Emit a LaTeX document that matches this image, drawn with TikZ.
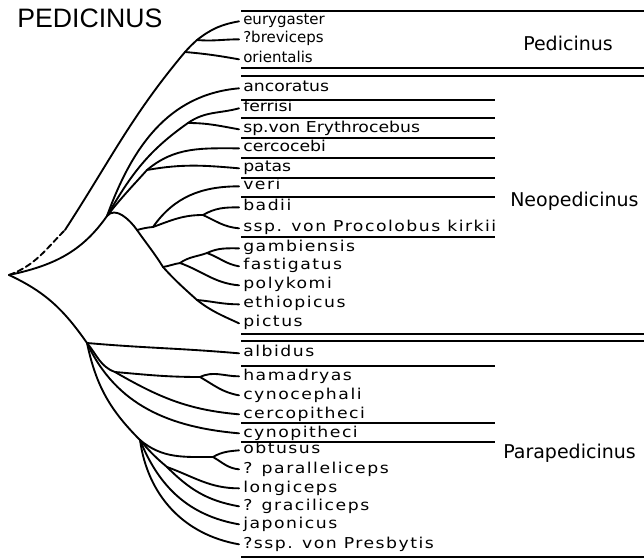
\documentclass[tikz,border=0pt]{standalone}
\usepackage{fontspec}
\newfontfamily\titlefont{Liberation Sans}
\newfontfamily\taxfont{DejaVu Sans}
\newfontfamily\taxfontwide[FakeStretch=1.15]{DejaVu Sans}
\newfontfamily\taxfontwider[FakeStretch=1.15,LetterSpace=10]{DejaVu Sans}
\tikzset{
  taxon/.style={anchor=base west, inner xsep=3pt, inner ysep=0pt,
    text height=8pt, text depth=2.5pt,
    font=\taxfont\fontsize{11.25pt}{13pt}\selectfont},
  widetaxon/.style={taxon, font=\taxfontwide\fontsize{11.25pt}{13pt}\selectfont},
  widertaxon/.style={taxon, font=\taxfontwider\fontsize{11.25pt}{13pt}\selectfont},
  genus/.style={anchor=base west, inner sep=0pt,
    font=\taxfont\fontsize{14.25pt}{16pt}\selectfont},
  branch/.style={line width=1.4pt, line cap=round},
  sepline/.style={line width=0.8pt},
  septhick/.style={line width=1.4pt}
}

\begin{document}
\begin{tikzpicture}[x=0.75pt, y=0.75pt]
  \useasboundingbox (0,0) rectangle (644,-560);

  \node[anchor=base west, inner sep=0pt, font=\titlefont\fontsize{20pt}{24pt}\selectfont] (title) at (17,-28) {PEDICINUS};

  % Pedicinus
  \node[taxon] (eurygaster) at (239,-25) {eurygaster};
  \node[taxon] (breviceps) at (239,-43) {?breviceps};
  \node[taxon] (orientalis) at (239,-63) {orientalis};
  % Neopedicinus
  \node[widetaxon] (ancoratus) at (239,-92) {ancoratus};
  \node[widetaxon] (ferrisi) at (239,-112) {ferrisi};
  \node[widetaxon] (spvon) at (239,-133) {sp.von Erythrocebus};
  \node[widetaxon] (cercocebi) at (239,-152) {cercocebi};
  \node[widetaxon] (patas) at (239,-172) {patas};
  \node[widertaxon] (veri) at (239,-190) {veri};
  \node[widertaxon] (badii) at (239,-211) {badii};
  \node[widertaxon] (kirkii) at (239,-232) {ssp. von Procolobus kirkii};
  \node[widertaxon] (gambiensis) at (239,-252) {gambiensis};
  \node[widertaxon] (fastigatus) at (239,-270) {fastigatus};
  \node[widertaxon] (polykomi) at (239,-289) {polykomi};
  \node[widertaxon] (ethiopicus) at (239,-308) {ethiopicus};
  \node[widertaxon] (pictus) at (239,-327) {pictus};
  % Parapedicinus
  \node[widertaxon] (albidus) at (239,-357) {albidus};
  \node[widertaxon] (hamadryas) at (239,-380) {hamadryas};
  \node[widertaxon] (cynocephali) at (239,-399) {cynocephali};
  \node[widertaxon] (cercopitheci) at (239,-418) {cercopitheci};
  \node[widertaxon] (cynopitheci) at (239,-437) {cynopitheci};
  \node[widertaxon] (obtusus) at (239,-454) {obtusus};
  \node[widertaxon] (paralleliceps) at (239,-473) {? paralleliceps};
  \node[widertaxon] (longiceps) at (239,-492) {longiceps};
  \node[widertaxon] (graciliceps) at (239,-510) {? graciliceps};
  \node[widertaxon] (japonicus) at (239,-528) {japonicus};
  \node[widertaxon] (presbytis) at (239,-548) {?ssp. von Presbytis};

  \node[genus] (pedicinus) at (523,-51) {Pedicinus};
  \node[genus] (neopedicinus) at (510,-207) {Neopedicinus};
  \node[genus] (parapedicinus) at (503,-458) {Parapedicinus};

  % separators
  \foreach \y in {11,68,76,334,341,557}
    \draw[septhick] (241,-\y) -- (644,-\y);
  \foreach \y in {100,178}
    \draw[septhick] (241,-\y) -- (495,-\y);
  \foreach \y in {118,138,158,197,237,366,423,442}
    \draw[sepline] (241,-\y) -- (495,-\y);

  % branch points
  \coordinate (root) at (9,-275);
  \coordinate (pd) at (65,-230);
  \coordinate (po) at (185,-52);
  \coordinate (pb) at (197,-40);
  \coordinate (nj) at (107,-216);
  \coordinate (nsp) at (188,-123);
  \coordinate (ncp) at (147,-170);
  \coordinate (nh) at (137,-230);
  \coordinate (nv) at (153,-227);
  \coordinate (nbs) at (203,-215);
  \coordinate (ng) at (163,-267);
  \coordinate (ngb) at (180,-263);
  \coordinate (ngs) at (207,-253);
  \coordinate (ne) at (197,-300);
  \coordinate (pa) at (87,-343);
  \coordinate (pc) at (115,-372);
  \coordinate (ph) at (200,-377);
  \coordinate (pp) at (140,-440);
  \coordinate (pob) at (213,-457);
  \coordinate (plg) at (167,-467);

  % Pedicinus
  \draw[branch, dash pattern=on 4.5pt off 2.5pt] (root) to[out=20,in=225] (pd);
  \draw[branch] (pd) to[out=57,in=230] (po) to[out=48,in=222] (pb) to[out=38,in=190] (eurygaster.west);
  \draw[branch] (po) to[out=-5,in=170] (orientalis.west);
  \draw[branch] (pb) to[out=-5,in=180] (breviceps.west);

  % Neopedicinus
  \draw[branch] (root) to[out=12,in=235] (nj) to[out=50,in=125] (nh) to[out=-55,in=122] (ng)
    to[out=-48,in=138] (ne) to[out=-38,in=155] (pictus.west);
  \draw[branch] (nj) to[out=70,in=185] (ancoratus.west);
  \draw[branch] (nj) to[out=60,in=215] (nsp) to[out=35,in=195] (ferrisi.west);
  \draw[branch] (nsp) to[out=0,in=170] (spvon.west);
  \draw[branch] (nj) to[out=52,in=228] (ncp) to[out=40,in=180] (cercocebi.west);
  \draw[branch] (ncp) to[out=10,in=175] (patas.west);
  \draw[branch] (nh) to[out=15,in=185] (nv) to[out=55,in=180] (veri.west);
  \draw[branch] (nv) to[out=20,in=180] (nbs) to[out=30,in=180] (badii.west);
  \draw[branch] (nbs) to[out=-25,in=175] (kirkii.west);
  \draw[branch] (ng) to[out=10,in=190] (ngb) to[out=35,in=200] (ngs) to[out=25,in=180] (gambiensis.west);
  \draw[branch] (ngs) to[out=-20,in=170] (fastigatus.west);
  \draw[branch] (ngb) to[out=-20,in=175] (polykomi.west);
  \draw[branch] (ne) to[out=-5,in=180] (ethiopicus.west);

  % Parapedicinus
  \draw[branch] (root) to[out=-25,in=125] (pa) to[out=-78,in=135] (pp);
  \draw[branch] (pa) to[out=-5,in=175] (albidus.west);
  \draw[branch] (pa) to[out=-50,in=160] (pc) to[out=-5,in=180] (ph) to[out=25,in=180] (hamadryas.west);
  \draw[branch] (ph) to[out=-30,in=170] (cynocephali.west);
  \draw[branch] (pc) to[out=-30,in=175] (cercopitheci.west);
  \draw[branch] (pa) to[out=-65,in=175] (cynopitheci.west);
  \draw[branch] (pp) to[out=-40,in=180] (pob) to[out=30,in=185] (obtusus.west);
  \draw[branch] (pob) to[out=-30,in=175] (paralleliceps.west);
  \draw[branch] (pp) to[out=-50,in=140] (plg) to[out=-20,in=180] (longiceps.west);
  \draw[branch] (plg) to[out=-45,in=170] (graciliceps.west);
  \draw[branch] (pp) to[out=-68,in=170] (japonicus.west);
  \draw[branch] (pp) to[out=-82,in=170] (presbytis.west);
\end{tikzpicture}
\end{document}
